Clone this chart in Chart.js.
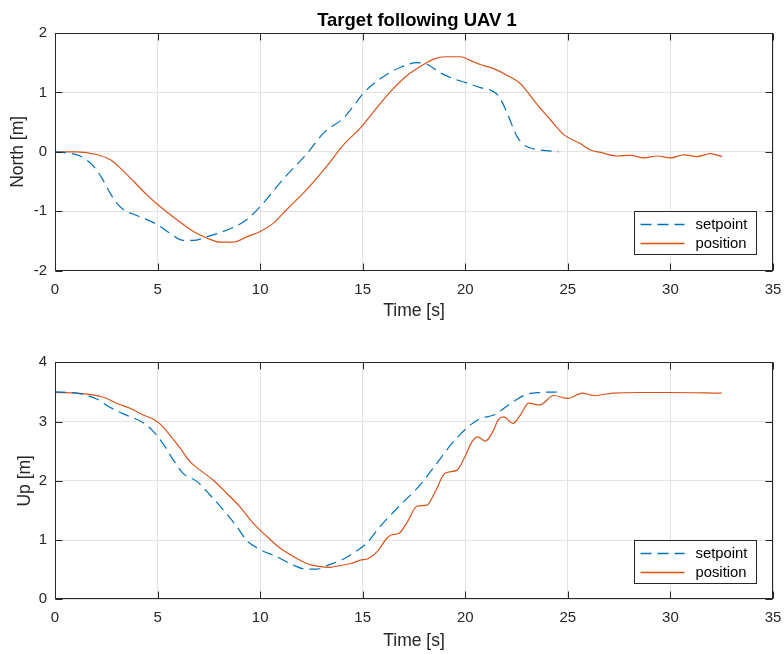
<!DOCTYPE html>
<html><head><meta charset="utf-8">
<script src="https://cdn.jsdelivr.net/npm/chart.js@4"></script>
<style>
html,body{margin:0;padding:0;background:#fff;}
#wrap{position:relative;width:784px;height:654px;overflow:hidden;}
.c{position:absolute;left:0;width:784px;height:327px;}
</style>
</head><body>
<div id="wrap">
<div class="c" style="top:0"><canvas id="c1" width="784" height="327"></canvas></div>
<div class="c" style="top:327px"><canvas id="c2" width="784" height="327"></canvas></div>
</div>
<script>
// ---------- data ----------
const titleText = 'Target following UAV 1';
const xLabel = 'Time [s]';
const yLabelNorth = 'North [m]';
const yLabelUp = 'Up [m]';
const seriesNames = ['setpoint', 'position'];
const xTicks = [0, 5, 10, 15, 20, 25, 30, 35];
const northTicks = [-2, -1, 0, 1, 2];
const upTicks = [0, 1, 2, 3, 4];

const tNorthSet = [0, 0.6, 1.22, 1.87, 2.3, 2.68, 3.0, 3.33, 3.98, 4.96, 5.6, 6.26, 6.75, 7.4, 8.7, 9.35, 10.16, 11.1, 12.3, 13.1, 14.07, 14.55, 15.04, 15.85, 16.83, 17.64, 18.1, 18.78, 19.43, 20.08, 20.73, 21.22, 21.63, 22.03, 22.52, 22.85, 23.33, 23.98, 24.55];
const northSet = [0, -0.02, -0.07, -0.24, -0.45, -0.69, -0.86, -0.97, -1.07, -1.22, -1.37, -1.49, -1.49, -1.43, -1.27, -1.14, -0.86, -0.47, -0.02, 0.32, 0.57, 0.77, 0.99, 1.23, 1.42, 1.5, 1.48, 1.33, 1.23, 1.16, 1.08, 1.04, 0.94, 0.66, 0.26, 0.12, 0.05, 0.02, 0.0];

const tNorthPos = [0, 1.06, 2.03, 2.68, 3.17, 3.82, 4.47, 5.12, 5.93, 6.75, 7.4, 8.05, 8.7, 9.35, 10.0, 10.65, 11.3, 12.28, 13.25, 14.07, 14.88, 15.75, 16.4, 17.15, 17.97, 18.46, 19.02, 19.76, 20.24, 20.73, 21.38, 22.03, 22.68, 23.0, 23.5, 24.15, 24.8, 25.6, 26.1, 26.6, 27.4, 28.05, 28.7, 29.35, 30.0, 30.65, 31.3, 31.95, 32.52];
const northPos = [0, 0, -0.045, -0.13, -0.27, -0.49, -0.72, -0.92, -1.14, -1.34, -1.45, -1.52, -1.52, -1.43, -1.34, -1.2, -0.97, -0.63, -0.24, 0.12, 0.4, 0.77, 1.03, 1.28, 1.47, 1.56, 1.6, 1.6, 1.54, 1.47, 1.4, 1.29, 1.15, 1.02, 0.8, 0.54, 0.29, 0.14, 0.03, -0.01, -0.07, -0.06, -0.1, -0.07, -0.1, -0.05, -0.08, -0.03, -0.08];

const tUpSet = [0, 1.06, 2.03, 2.68, 3.33, 4.3, 4.8, 5.28, 5.77, 6.26, 6.91, 7.56, 8.2, 8.86, 9.35, 10.0, 10.8, 11.6, 12.2, 12.76, 13.41, 14.07, 14.55, 15.2, 15.85, 16.83, 17.8, 18.62, 19.35, 20.24, 20.73, 21.38, 22.44, 23.0, 23.66, 24.63];
const upSet = [3.5, 3.48, 3.38, 3.24, 3.13, 2.98, 2.83, 2.62, 2.35, 2.12, 1.99, 1.76, 1.51, 1.23, 0.99, 0.84, 0.72, 0.58, 0.51, 0.51, 0.59, 0.68, 0.78, 0.95, 1.23, 1.59, 1.93, 2.3, 2.63, 2.94, 3.05, 3.11, 3.36, 3.46, 3.49, 3.5];

const tUpPos = [0, 1.06, 2.36, 3.0, 3.82, 4.3, 4.8, 5.12, 5.6, 6.1, 6.59, 7.07, 7.72, 8.37, 9.02, 9.67, 10.33, 10.98, 11.63, 12.3, 12.93, 13.4, 13.9, 14.39, 14.88, 15.28, 15.69, 16.18, 16.4, 16.75, 17.2, 17.64, 18.13, 18.54, 19.02, 19.6, 20.0, 20.33, 20.6, 20.98, 21.3, 21.63, 21.87, 22.33, 22.68, 23.09, 23.63, 24.31, 25.0, 25.7, 26.26, 27.2, 28.5, 30.0, 32.5];
const upPos = [3.49, 3.48, 3.41, 3.31, 3.2, 3.11, 3.04, 2.96, 2.77, 2.55, 2.32, 2.18, 2.01, 1.79, 1.56, 1.28, 1.06, 0.86, 0.72, 0.6, 0.55, 0.54, 0.57, 0.6, 0.66, 0.69, 0.8, 1.03, 1.09, 1.11, 1.32, 1.57, 1.59, 1.82, 2.13, 2.18, 2.42, 2.66, 2.74, 2.67, 2.8, 3.04, 3.08, 2.97, 3.11, 3.31, 3.28, 3.44, 3.39, 3.48, 3.44, 3.48, 3.49, 3.49, 3.48];

// ---------- styling ----------
const FONT = "'Liberation Sans', Arial, Helvetica, sans-serif";
const AX = '#262626';
const BLUE = '#0072BD';
const ORANGE = '#D95319';
const DASH = [11, 6];

function pts(xs, ys) { return xs.map((x, i) => ({x: x, y: ys[i]})); }

const boxPlugin = {
  id: 'matlabBox',
  afterDraw(chart) {
    const {ctx, chartArea: a, scales} = chart;
    const xs = scales.x, ys = scales.y;
    const lg = chart.options.plugins.matlabBox;
    const L = Math.round(a.left) + 0.5, R = Math.round(a.right) - 0.5;
    const T = Math.round(a.top) + 0.5, B = Math.round(a.bottom) - 0.5;
    const tl = 7;
    ctx.save();
    // title (centered over the plot box)
    if (lg.title) {
      ctx.fillStyle = '#000';
      ctx.font = 'bold 18.5px ' + FONT;
      ctx.textAlign = 'center';
      ctx.textBaseline = 'middle';
      ctx.fillText(lg.title, (a.left + a.right) / 2 + 3, 21);
    }
    ctx.strokeStyle = AX; ctx.lineWidth = 1;
    ctx.beginPath();
    xTicks.forEach(v => {
      const p = Math.round(xs.getPixelForValue(v)) + 0.5;
      ctx.moveTo(p, B); ctx.lineTo(p, B - tl);
      ctx.moveTo(p, T); ctx.lineTo(p, T + tl);
    });
    ys.ticks.forEach(t => {
      const p = Math.round(ys.getPixelForValue(t.value)) + 0.5;
      ctx.moveTo(L, p); ctx.lineTo(L + tl, p);
      ctx.moveTo(R, p); ctx.lineTo(R - tl, p);
    });
    ctx.stroke();
    ctx.strokeRect(L, T, R - L, B - T);
    // legend
    const bw = 122, bh = 43;
    const bx = Math.round(a.right - lg.right - bw) + 0.5;
    const by = Math.round(a.bottom - lg.bottom - bh) + 0.5;
    ctx.fillStyle = '#fff';
    ctx.fillRect(bx, by, bw, bh);
    ctx.strokeStyle = AX;
    ctx.strokeRect(bx, by, bw, bh);
    chart.data.datasets.forEach((ds, i) => {
      const yy = by + 13 + i * 19;
      ctx.save();
      ctx.strokeStyle = ds.borderColor;
      ctx.lineWidth = 1.3;
      ctx.setLineDash(ds.borderDash || []);
      ctx.beginPath();
      ctx.moveTo(bx + 6, yy); ctx.lineTo(bx + 50, yy);
      ctx.stroke();
      ctx.restore();
      ctx.fillStyle = '#000';
      ctx.font = '14.8px ' + FONT;
      ctx.textBaseline = 'middle';
      ctx.textAlign = 'left';
      ctx.fillText(ds.label, bx + 61, yy);
    });
    ctx.restore();
  }
};

function makeChart(id, cfg) {
  const datasets = [
    {label: seriesNames[0], data: pts(cfg.ts, cfg.vs), borderColor: BLUE, borderDash: DASH},
    {label: seriesNames[1], data: pts(cfg.tp, cfg.vp), borderColor: ORANGE}
  ].map(d => Object.assign(d, {borderWidth: 1.2, pointRadius: 0, fill: false, cubicInterpolationMode: 'monotone'}));
  return new Chart(document.getElementById(id), {
    type: 'line',
    data: {datasets},
    plugins: [boxPlugin],
    options: {
      responsive: false,
      animation: false,
      devicePixelRatio: 1,
      layout: {padding: {left: 0, right: 11, top: cfg.padTop, bottom: 0}},
      plugins: {
        legend: {display: false},
        tooltip: {enabled: false},
        title: {display: false},
        matlabBox: {right: 17, bottom: 16.5, title: cfg.title}
      },
      scales: {
        x: {
          type: 'linear', min: 0, max: 35,
          afterBuildTicks: s => { s.ticks = xTicks.map(v => ({value: v})); },
          afterFit: s => { s.height = cfg.xH; s.paddingLeft = 0; s.paddingRight = 0; },
          ticks: {color: AX, font: {family: FONT, size: 15}, padding: 10, maxRotation: 0, autoSkip: false},
          grid: {color: '#e3e3e3', drawTicks: false, lineWidth: 1},
          border: {display: false},
          title: {display: true, text: xLabel, color: AX, font: {family: FONT, size: 17.5}, padding: {top: 0, bottom: cfg.xTitlePad}}
        },
        y: {
          type: 'linear', min: cfg.yTicks[0], max: cfg.yTicks[cfg.yTicks.length - 1],
          afterBuildTicks: s => { s.ticks = cfg.yTicks.map(v => ({value: v})); },
          afterFit: s => { s.width = 55; s.paddingTop = 0; s.paddingBottom = 0; },
          ticks: {color: AX, font: {family: FONT, size: 15}, padding: 8, autoSkip: false},
          grid: {color: '#e3e3e3', drawTicks: false, lineWidth: 1},
          border: {display: false},
          title: {display: true, text: cfg.yLabel, color: AX, font: {family: FONT, size: 17.5}, padding: {top: cfg.yTitlePad, bottom: 0}}
        }
      }
    }
  });
}

makeChart('c1', {ts: tNorthSet, vs: northSet, tp: tNorthPos, vp: northPos, yTicks: northTicks, yLabel: yLabelNorth,
  title: titleText, padTop: 33, xH: 56.3, xTitlePad: 5.8, yTitlePad: 7.8});
makeChart('c2', {ts: tUpSet, vs: upSet, tp: tUpPos, vp: upPos, yTicks: upTicks, yLabel: yLabelUp,
  title: null, padTop: 35.3, xH: 54.7, xTitlePad: 2.8, yTitlePad: 15});
</script>
</body></html>
